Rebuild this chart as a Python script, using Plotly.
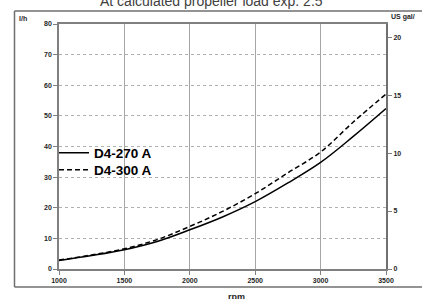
import plotly.graph_objects as go

rpm = [1000, 1250, 1500, 1750, 2000, 2250, 2500, 2750, 3000, 3250, 3500]
d4_270 = [2.8, 4.4, 6.3, 9.0, 12.8, 17.0, 22.0, 28.1, 34.8, 43.3, 52.4]
d4_300 = [2.9, 4.6, 6.6, 9.6, 13.9, 18.8, 24.6, 31.4, 38.2, 48.0, 57.1]
names = ["D4-270 A", "D4-300 A"]
left_ticks = [0, 10, 20, 30, 40, 50, 60, 70, 80]
right_ticks = [0, 5, 10, 15, 20]
x_ticks = [1000, 1500, 2000, 2500, 3000, 3500]
title = "At calculated propeller load exp. 2.5"
LPH_PER_USGAL = 3.785

W, H = 422, 299
L, R, T, B = 59, 386, 24, 269
pw, ph = R - L, B - T

def px(x):
    return (x - L) / pw

def py(y):
    return (B - y) / ph

fam = "Liberation Sans"
tcol = "#262626"
tickfont = dict(family=fam, size=7, color=tcol, weight="bold")
legfont = dict(family=fam, size=13.5, color="black", weight="bold")

fig = go.Figure()
fig.add_trace(go.Scatter(x=rpm, y=d4_270, name=names[0], mode="lines", legend="legend",
                         line=dict(color="black", width=1.5, shape="spline")))
fig.add_trace(go.Scatter(x=rpm, y=d4_300, name=names[1], mode="lines", legend="legend2",
                         line=dict(color="black", width=1.5, dash="5px,3px", shape="spline")))
# invisible trace to activate secondary axis
fig.add_trace(go.Scatter(x=[rpm[0]], y=[0], yaxis="y2", mode="markers",
                         marker=dict(opacity=0), showlegend=False, hoverinfo="skip"))

frame = dict(color="#6f6f6f", width=1.5)
fig.update_layout(
    width=W, height=H,
    margin=dict(l=L, r=W - R, t=T, b=H - B, autoexpand=False),
    paper_bgcolor="white", plot_bgcolor="white",
    showlegend=True,
    legend=dict(x=px(54), y=py(153), xanchor="left", yanchor="middle",
                bgcolor="rgba(0,0,0,0)", borderwidth=0, font=legfont),
    legend2=dict(x=px(54), y=py(170), xanchor="left", yanchor="middle",
                 bgcolor="rgba(0,0,0,0)", borderwidth=0, font=legfont),
    xaxis=dict(range=[1000, 3500], tickvals=x_ticks, showgrid=True,
               gridcolor="#a6a6a6", gridwidth=1, zeroline=False,
               showline=True, linecolor="#808080", linewidth=1.5, mirror=True,
               ticks="outside", ticklen=4, tickcolor="#808080",
               tickfont=tickfont, automargin=False),
    yaxis=dict(range=[0, 80], tickvals=left_ticks, showgrid=True,
               gridcolor="#b0b0b0", griddash="dot", gridwidth=1, zeroline=False,
               showline=True, linecolor="#808080", linewidth=1.5,
               ticks="outside", ticklen=4, tickcolor="#808080",
               tickfont=tickfont, automargin=False),
    yaxis2=dict(range=[0, 80 / LPH_PER_USGAL], tickvals=right_ticks,
                overlaying="y", side="right", showgrid=False, zeroline=False,
                showline=True, linecolor="#707070", linewidth=2,
                ticks="outside", ticklen=4, tickcolor="#808080",
                tickfont=tickfont, automargin=False),
    annotations=[
        dict(text=title, x=px(211), y=py(11), xref="paper", yref="paper",
             xanchor="center", yanchor="bottom", showarrow=False,
             font=dict(family=fam, size=14, color="#404040")),
        dict(text="l/h", x=px(17), y=py(19), xref="paper", yref="paper",
             xanchor="left", yanchor="middle", showarrow=False,
             font=dict(family=fam, size=7, color=tcol, weight="bold")),
        dict(text="US gal/", x=px(389), y=py(17), xref="paper", yref="paper",
             xanchor="left", yanchor="middle", showarrow=False,
             font=dict(family=fam, size=7, color=tcol, weight="bold")),
        dict(text="rpm", x=px(236), y=py(297), xref="paper", yref="paper",
             xanchor="center", yanchor="middle", showarrow=False,
             font=dict(family=fam, size=9, color=tcol, weight="bold")),
    ],
)
# outer chart frame (left, top, bottom edges), drawn as separate paper-referenced lines
fig.add_shape(type="line", xref="paper", yref="paper", layer="above",
              x0=px(14.5), x1=px(14.5), y0=py(287), y1=py(11), line=frame)
fig.add_shape(type="line", xref="paper", yref="paper", layer="above",
              x0=px(14.5), x1=px(422), y0=py(11), y1=py(11), line=frame)
fig.add_shape(type="line", xref="paper", yref="paper", layer="above",
              x0=px(14.5), x1=px(422), y0=py(287), y1=py(287), line=frame)

fig.write_html("out.html", config={"displayModeBar": False},
               post_script="document.body.style.margin='0';")
